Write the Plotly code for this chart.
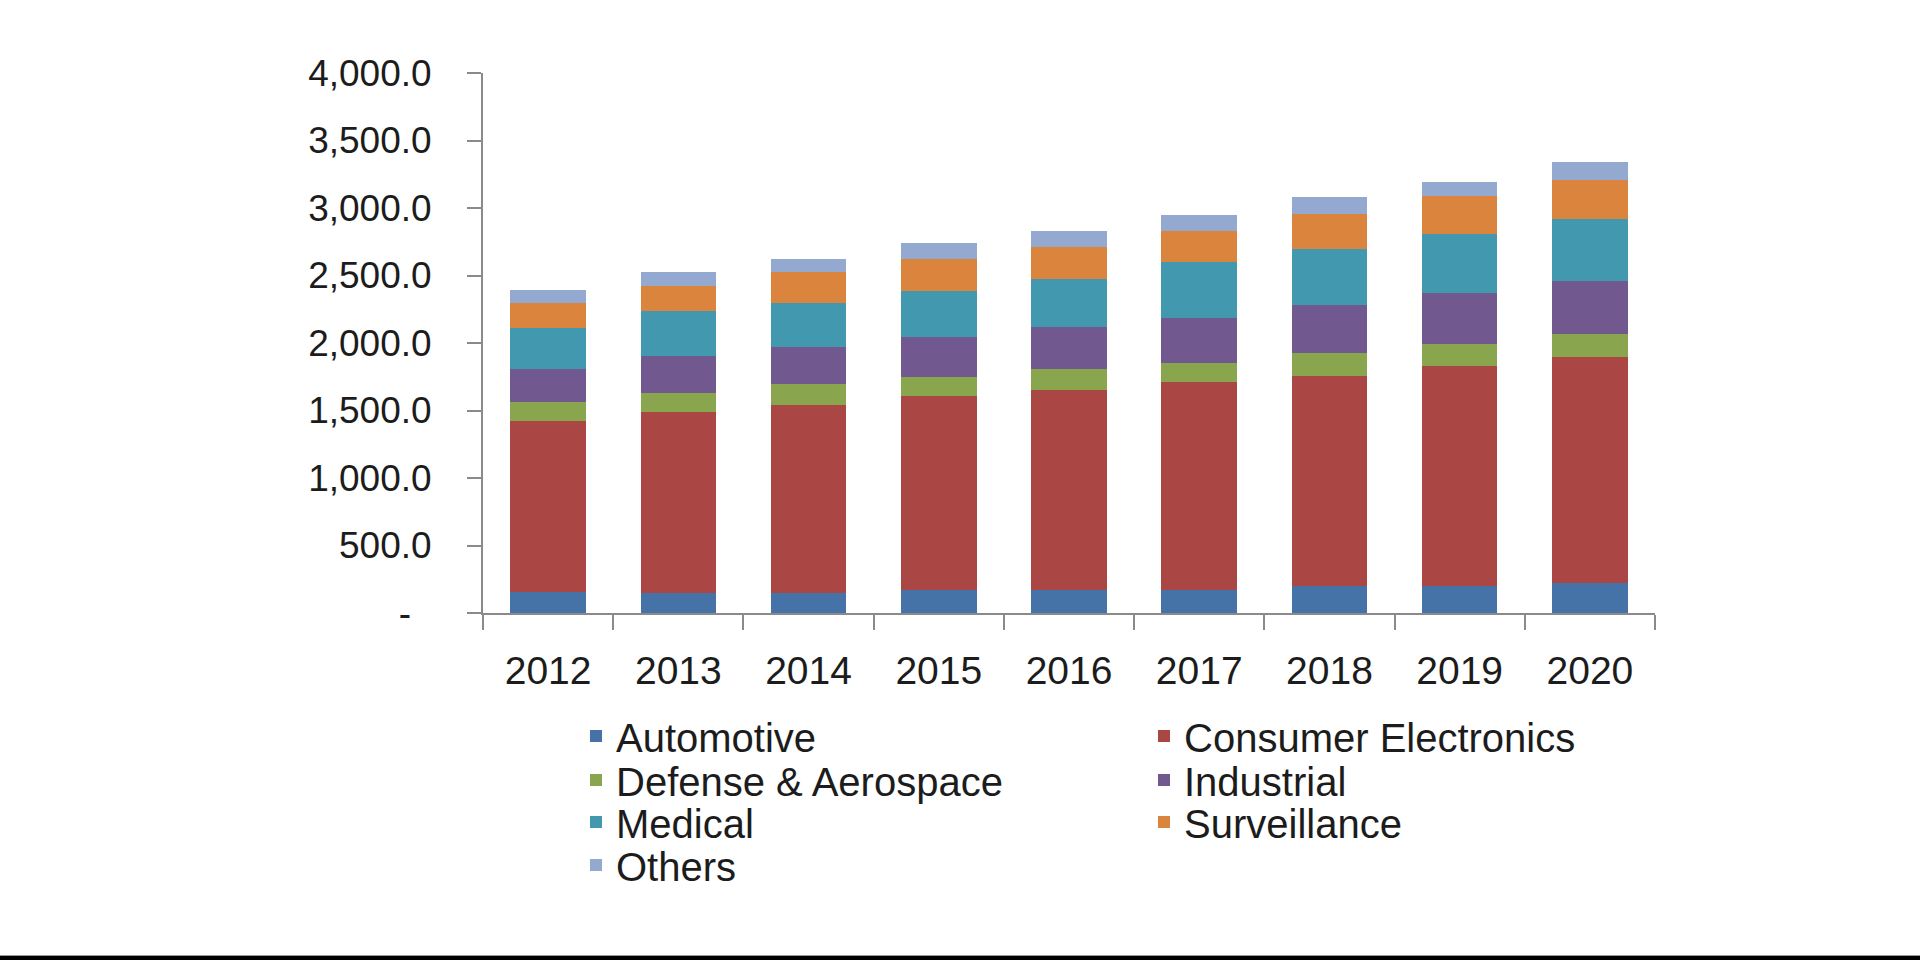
import plotly.graph_objects as go

years = ["2012", "2013", "2014", "2015", "2016", "2017", "2018", "2019", "2020"]

automotive = [156, 148, 150, 172, 172, 172, 200, 200, 224]
consumer_electronics = [1266, 1342, 1389, 1436, 1477, 1542, 1558, 1632, 1676]
defense_aerospace = [142, 137, 161, 142, 155, 137, 169, 164, 170]
industrial = [240, 279, 274, 292, 315, 331, 356, 374, 391]
medical = [307, 328, 320, 345, 355, 421, 410, 438, 459]
surveillance = [183, 186, 235, 235, 238, 227, 260, 281, 287]
others = [98, 103, 90, 117, 118, 120, 131, 107, 134]

y_tickvals = [0, 500, 1000, 1500, 2000, 2500, 3000, 3500, 4000]
y_ticktext = ["-  ", "500.0", "1,000.0", "1,500.0", "2,000.0", "2,500.0", "3,000.0", "3,500.0", "4,000.0"]

series = [
    ("Automotive", automotive, "#4572A7", "legend"),
    ("Consumer Electronics", consumer_electronics, "#AA4643", "legend"),
    ("Defense & Aerospace", defense_aerospace, "#89A54E", "legend2"),
    ("Industrial", industrial, "#71588F", "legend2"),
    ("Medical", medical, "#4198AF", "legend3"),
    ("Surveillance", surveillance, "#DB843D", "legend3"),
    ("Others", others, "#93A9CF", "legend4"),
]

W, H = 1920, 960
L, R, T, B = 483, 265, 73, 347
pw, ph = W - L - R, H - T - B

fig = go.Figure()
for name, vals, color, lg in series:
    fig.add_trace(go.Bar(x=years, y=vals, name=name, marker=dict(color=color, line=dict(width=0)),
                         legend=lg))

font_family = "Liberation Sans, Arial, sans-serif"
text_color = "#1c1c1c"
axis_color = "#8a8a8a"

leg_x = 576 / W
row_centers = [736, 780, 822, 865]
legend_common = dict(orientation="h", xref="container", yref="container", x=leg_x, xanchor="left",
                     yanchor="middle", font=dict(family=font_family, size=40, color=text_color),
                     entrywidth=523, entrywidthmode="pixels", bgcolor="rgba(0,0,0,0)",
                     borderwidth=0, traceorder="normal", itemclick=False)

layouts = {}
for i, rc in enumerate(row_centers):
    key = "legend" if i == 0 else f"legend{i+1}"
    layouts[key] = dict(legend_common, y=1 - rc / H)

fig.update_layout(
    width=W, height=H,
    margin=dict(l=L, r=R, t=T, b=B, pad=0),
    paper_bgcolor="white", plot_bgcolor="white",
    barmode="stack", bargap=0.42,
    showlegend=True,
    font=dict(family=font_family, color=text_color),
    xaxis=dict(type="category", showgrid=False, showline=True, linecolor=axis_color, linewidth=2,
               ticks="outside", tickson="boundaries", ticklen=15, tickcolor=axis_color, tickwidth=2,
               tickfont=dict(size=39, family=font_family, color=text_color), ticklabelstandoff=22,
               zeroline=False),
    yaxis=dict(range=[0, 4000], tickvals=y_tickvals, ticktext=y_ticktext, showgrid=False,
               showline=True, linecolor=axis_color, linewidth=2, ticks="outside", ticklen=14,
               tickcolor=axis_color, tickwidth=2, tickfont=dict(size=37, family=font_family, color=text_color),
               ticklabelstandoff=28, zeroline=False),
    **layouts,
)

# bottom black strip of the screenshot frame
fig.add_shape(type="rect", xref="paper", yref="paper",
              x0=-L / pw, x1=(W - L) / pw, y0=-(B) / ph, y1=-(B - 4) / ph,
              fillcolor="black", line=dict(width=0), layer="above")
fig.add_shape(type="line", xref="paper", yref="paper",
              x0=-L / pw, x1=(W - L) / pw, y0=-(B - 4.5) / ph, y1=-(B - 4.5) / ph,
              line=dict(color="#9a9a9a", width=1), layer="above")

fig.write_html("out.html")
